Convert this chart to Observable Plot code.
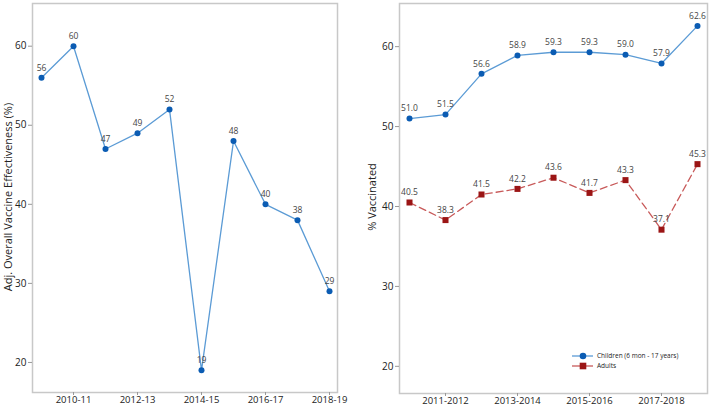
<!DOCTYPE html>
<html><head><meta charset="utf-8">
<script src="https://cdn.jsdelivr.net/npm/d3@7"></script>
<script src="https://cdn.jsdelivr.net/npm/@observablehq/plot@0.6"></script>
<style>
body{margin:0;background:#fff;font-family:"Open Sans",sans-serif}
#wrap{position:relative;width:709px;height:406px;overflow:hidden}
.panel{position:absolute;top:0;overflow:visible}
.ylab{position:absolute;font-size:11px;color:#222;white-space:nowrap;line-height:12px;transform:translate(-50%,-50%) rotate(-90deg)}
.legend{position:absolute;font-size:6.5px;color:#222;line-height:10px}
.legend div{display:flex;align-items:center;height:10px}
.legend svg{margin-right:4px}
</style>
</head><body><div id="wrap"></div>
<script>
// Left panel: adjusted overall vaccine effectiveness
const veSeasons = ["2009-10","2010-11","2011-12","2012-13","2013-14","2014-15","2015-16","2016-17","2017-18","2018-19"];
const veValues = [56, 60, 47, 49, 52, 19, 48, 40, 38, 29];
const veTicks = ["2010-11","2012-13","2014-15","2016-17","2018-19"];

// Right panel: % vaccinated
const vacSeasons = ["2010-2011","2011-2012","2012-2013","2013-2014","2014-2015","2015-2016","2016-2017","2017-2018","2018-2019"];
const childrenValues = [51.0, 51.5, 56.6, 58.9, 59.3, 59.3, 59.0, 57.9, 62.6];
const adultValues = [40.5, 38.3, 41.5, 42.2, 43.6, 41.7, 43.3, 37.1, 45.3];
const vacTicks = ["2011-2012","2013-2014","2015-2016","2017-2018"];
const seriesNames = ["Children (6 mon - 17 years)", "Adults"];
const yTicks = [20, 30, 40, 50, 60];

const blueLine = "#5b9bd5", blueDot = "#0b5cb3", redLine = "#c85a5a", redDot = "#9b1515";
const wrap = document.getElementById("wrap");
const baseStyle = {fontFamily: "Open Sans, sans-serif", fontSize: "9.5px", color: "#222", background: "transparent", overflow: "visible"};

const ve = veSeasons.map((s, i) => ({season: s, value: veValues[i]}));
const left = Plot.plot({
  width: 340, height: 406,
  marginLeft: 32, marginRight: 3, marginTop: 3, marginBottom: 14,
  style: baseStyle,
  x: {type: "point", domain: veSeasons, padding: 0.22},
  y: {domain: [16.2, 65.4]},
  marks: [
    Plot.frame({stroke: "#c8c8c8", strokeWidth: 1.5}),
    Plot.axisX({ticks: veTicks, tickSize: 3, tickPadding: 1, label: null, stroke: "#999", fontSize: 9.5}),
    Plot.axisY({ticks: yTicks, tickSize: 4, tickPadding: 2, label: null, stroke: "#999", fontSize: 10}),
    Plot.line(ve, {x: "season", y: "value", stroke: blueLine, strokeWidth: 1.3}),
    Plot.dot(ve, {x: "season", y: "value", fill: blueDot, r: 3, stroke: "none"}),
    Plot.text(ve, {x: "season", y: "value", text: d => String(d.value), dy: -10, fill: "#444", fontSize: 8.5})
  ]
});
left.classList.add("panel"); left.style.left = "0px";
wrap.appendChild(left);

const vac = [
  ...vacSeasons.map((s, i) => ({season: s, value: childrenValues[i], series: seriesNames[0]})),
  ...vacSeasons.map((s, i) => ({season: s, value: adultValues[i], series: seriesNames[1]}))
];
const kids = vac.filter(d => d.series === seriesNames[0]);
const adults = vac.filter(d => d.series === seriesNames[1]);
const right = Plot.plot({
  width: 349, height: 406,
  marginLeft: 39, marginRight: 2, marginTop: 3, marginBottom: 13,
  style: baseStyle,
  x: {type: "point", domain: vacSeasons, padding: 0.2},
  y: {domain: [16.6, 65.4]},
  marks: [
    Plot.frame({stroke: "#c8c8c8", strokeWidth: 1.5}),
    Plot.axisX({ticks: vacTicks, tickSize: 3, tickPadding: 1, label: null, stroke: "#999", fontSize: 9.5}),
    Plot.axisY({ticks: yTicks, tickSize: 4, tickPadding: 2, label: null, stroke: "#999", fontSize: 10}),
    Plot.line(kids, {x: "season", y: "value", stroke: blueLine, strokeWidth: 1.3}),
    Plot.line(adults, {x: "season", y: "value", stroke: redLine, strokeWidth: 1.3, strokeDasharray: "7,4"}),
    Plot.dot(kids, {x: "season", y: "value", fill: blueDot, r: 3, stroke: "none"}),
    Plot.dot(adults, {x: "season", y: "value", fill: redDot, symbol: "square", r: 3.4, stroke: "none"}),
    Plot.text(vac, {x: "season", y: "value", text: d => d.value.toFixed(1), dy: -10, fill: "#444", fontSize: 8.5})
  ]
});
right.classList.add("panel"); right.style.left = "360px";
wrap.appendChild(right);

// axis titles
const l1 = document.createElement("div"); l1.className = "ylab";
l1.textContent = "Adj. Overall Vaccine Effectiveness (%)";
l1.style.left = "8px"; l1.style.top = "197px"; wrap.appendChild(l1);
const l2 = document.createElement("div"); l2.className = "ylab";
l2.textContent = "% Vaccinated";
l2.style.left = "372px"; l2.style.top = "197px"; wrap.appendChild(l2);

// legend
const lg = document.createElement("div"); lg.className = "legend";
lg.style.left = "572px"; lg.style.top = "351px";
lg.innerHTML =
  `<div><svg width="21" height="10"><line x1="0" y1="5" x2="21" y2="5" stroke="${blueLine}" stroke-width="1.3"/><circle cx="11" cy="5" r="3.3" fill="${blueDot}"/></svg>${seriesNames[0]}</div>` +
  `<div><svg width="21" height="10"><line x1="0" y1="5" x2="21" y2="5" stroke="${redLine}" stroke-width="1.3"/><rect x="7.7" y="1.7" width="6.6" height="6.6" fill="${redDot}"/></svg>${seriesNames[1]}</div>`;
wrap.appendChild(lg);
</script>
</body></html>
